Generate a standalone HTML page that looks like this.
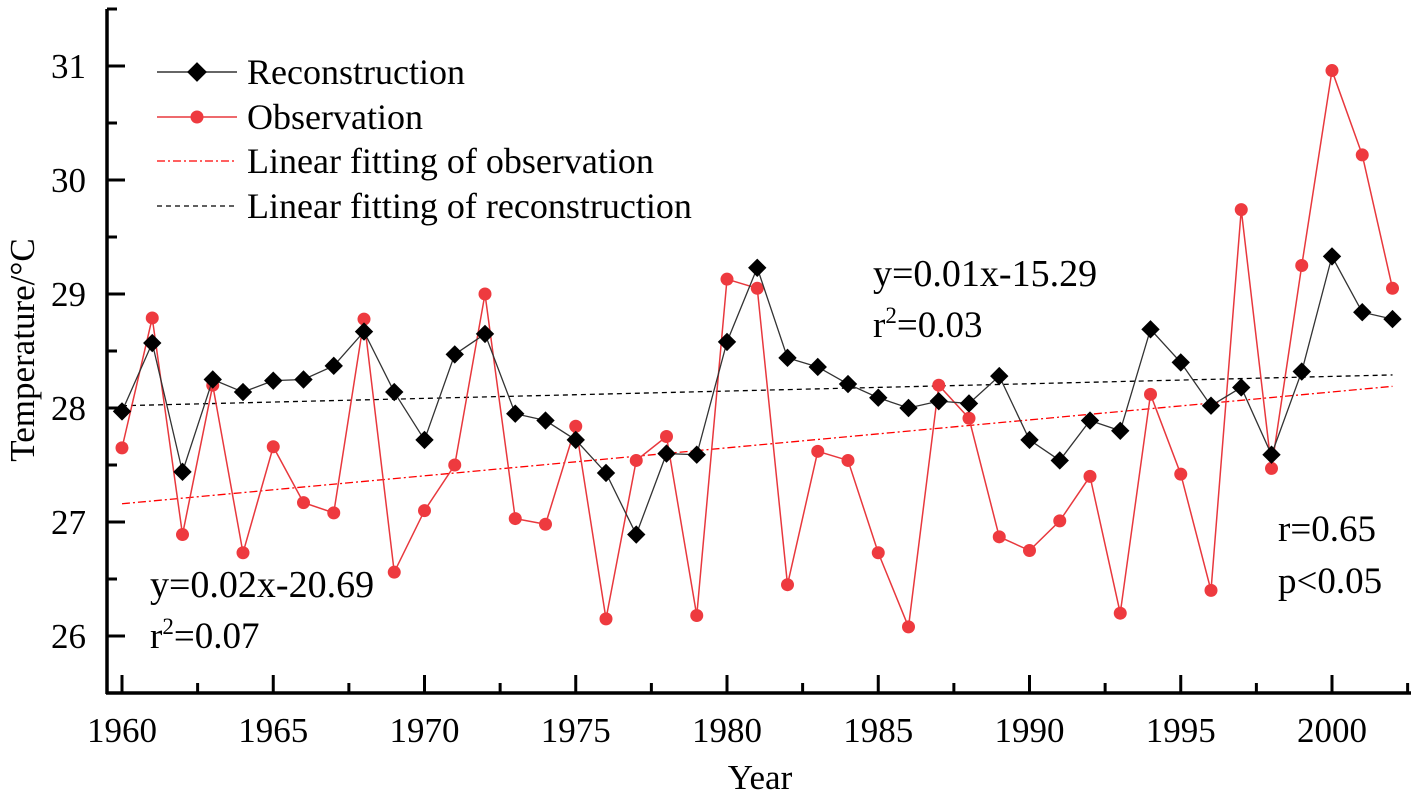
<!DOCTYPE html>
<html><head><meta charset="utf-8"><style>
html,body{margin:0;padding:0;background:#fff}
svg{display:block;font-family:"Liberation Serif",serif}
</style></head><body>
<svg id="chart" width="1418" height="796">
<g id="axes"></g>
<g id="marks"></g>
<g id="legend">
 <line x1="157" y1="72" x2="237" y2="72" stroke="#333" stroke-width="1.5"/>
 <rect x="190" y="65" width="14" height="14" transform="rotate(45 197 72)" fill="#000"/>
 <text x="247" y="84" font-size="36">Reconstruction</text>
 <line x1="157" y1="117" x2="237" y2="117" stroke="#e8383d" stroke-width="1.5"/>
 <circle cx="197" cy="117" r="6.5" fill="#ee3a3f"/>
 <text x="247" y="129" font-size="36">Observation</text>
 <line x1="157" y1="161" x2="237" y2="161" stroke="#f00" stroke-width="1.3" stroke-dasharray="8,3,2,3"/>
 <text x="247" y="173" font-size="36">Linear fitting of observation</text>
 <line x1="157" y1="206" x2="237" y2="206" stroke="#000" stroke-width="1.3" stroke-dasharray="5,4"/>
 <text x="247" y="218" font-size="36">Linear fitting of reconstruction</text>
</g>
<g font-size="37">
 <text x="873" y="286" font-size="38">y=0.01x-15.29</text>
 <text x="873" y="337">r<tspan dy="-14" font-size="23">2</tspan><tspan dy="14">=0.03</tspan></text>
 <text x="150" y="597" font-size="38">y=0.02x-20.69</text>
 <text x="150" y="648">r<tspan dy="-14" font-size="23">2</tspan><tspan dy="14">=0.07</tspan></text>
 <text x="1278" y="541">r=0.65</text>
 <text x="1278" y="593">p&lt;0.05</text>
</g>
<text x="760" y="789" font-size="35" text-anchor="middle">Year</text>
<text transform="translate(34 350) rotate(-90)" font-size="35" text-anchor="middle">Temperature/°C</text>
</svg>
<script>
const years = [];
for (let y = 1960; y <= 2002; y++) years.push(y);
const reconstruction = [27.97,28.57,27.44,28.25,28.14,28.24,28.25,28.37,28.67,28.14,27.72,28.47,28.65,27.95,27.89,27.72,27.43,26.89,27.60,27.59,28.58,29.23,28.44,28.36,28.21,28.09,28.00,28.06,28.04,28.28,27.72,27.54,27.89,27.80,28.69,28.40,28.02,28.18,27.59,28.32,29.33,28.84,28.78];
const observation = [27.65,28.79,26.89,28.20,26.73,27.66,27.17,27.08,28.78,26.56,27.10,27.50,29.00,27.03,26.98,27.84,26.15,27.54,27.75,26.18,29.13,29.05,26.45,27.62,27.54,26.73,26.08,28.20,27.91,26.87,26.75,27.01,27.40,26.20,28.12,27.42,26.40,29.74,27.47,29.25,30.96,30.22,29.05];
const obsFitEnds = [27.16, 28.19];
const reconFitEnds = [28.02, 28.29];
const xTicks = [1960,1965,1970,1975,1980,1985,1990,1995,2000];
const yTicks = [26,27,28,29,30,31];

const NS = "http://www.w3.org/2000/svg";
const X = v => 122 + (v - 1960) * 30.25;
const Y = v => 66 + (31 - v) * 114;
function el(tag, attrs, parent) {
  const e = document.createElementNS(NS, tag);
  for (const k in attrs) e.setAttribute(k, attrs[k]);
  parent.appendChild(e);
  return e;
}
const axes = document.getElementById('axes');
const marks = document.getElementById('marks');
let a = el('line', {x1:107, y1:9, x2:107, y2:694, stroke:'#000', 'stroke-width':3.5}, axes);


a = el('line', {x1:106, y1:693, x2:1411, y2:693, stroke:'#000', 'stroke-width':3.5}, axes);


for (let v = 25.5; v <= 31.5; v += 0.5) {
  const major = Math.abs(v - Math.round(v)) < 1e-6;
  el('line', {x1:107, y1:Y(v), x2:107 + (major ? 18 : 10), y2:Y(v), stroke:'#000', 'stroke-width':3}, axes);
}
yTicks.forEach(v => {
  const t = el('text', {x:86, y:Y(v) + 12, 'font-size':35, 'text-anchor':'end'}, axes);
  t.textContent = v;
  
  
});
for (let v = 1960; v <= 2002.5; v += 2.5) {
  const major = v % 5 === 0;
  el('line', {x1:X(v), y1:693, x2:X(v), y2:693 - (major ? 18 : 10), stroke:'#000', 'stroke-width':3}, axes);
}
xTicks.forEach(v => {
  const t = el('text', {x:X(v), y:742, 'font-size':35, 'text-anchor':'middle'}, axes);
  t.textContent = v;
  
  
});
let f = el('line', {x1:X(1960), y1:Y(obsFitEnds[0]), x2:X(2002), y2:Y(obsFitEnds[1]), stroke:'#f00', 'stroke-width':1.3, 'stroke-dasharray':'8,3,2,3'}, marks);


f = el('line', {x1:X(1960), y1:Y(reconFitEnds[0]), x2:X(2002), y2:Y(reconFitEnds[1]), stroke:'#000', 'stroke-width':1.3, 'stroke-dasharray':'5,4'}, marks);


let p = el('polyline', {points: years.map((y,i)=>X(y)+','+Y(observation[i])).join(' '), fill:'none', stroke:'#e8383d', 'stroke-width':1.5}, marks);


years.forEach((y,i) => {
  const c = el('circle', {cx:X(y), cy:Y(observation[i]), r:6.5, fill:'#ee3a3f'}, marks);
  
  
});
p = el('polyline', {points: years.map((y,i)=>X(y)+','+Y(reconstruction[i])).join(' '), fill:'none', stroke:'#333', 'stroke-width':1.3}, marks);


years.forEach((y,i) => {
  const cx = X(y), cy = Y(reconstruction[i]);
  const d = el('rect', {x:cx-6.5, y:cy-6.5, width:13, height:13, fill:'#000', transform:`rotate(45 ${cx} ${cy})`}, marks);
  
  
});
</script>
</body></html>
